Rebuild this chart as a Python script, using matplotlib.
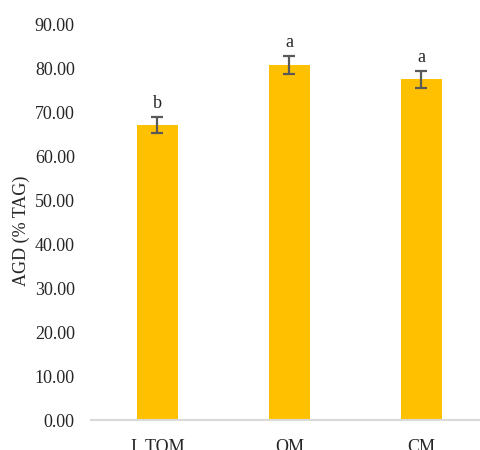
import matplotlib
matplotlib.use("Agg")
import matplotlib.pyplot as plt

categories = ["I_TOM", "OM", "CM"]
values = [67.3, 80.9, 77.6]
errors = [1.8, 2.0, 1.9]
letters = ["b", "a", "a"]
yticks = [0, 10, 20, 30, 40, 50, 60, 70, 80, 90]

plt.rcParams["font.family"] = ["Liberation Serif", "DejaVu Serif"]

fig = plt.figure(figsize=(4.8, 4.5), dpi=100)
ax = fig.add_axes([0.1906, 0.0656, 0.825, 0.879])

x = list(range(len(categories)))
ax.bar(x, values, width=0.31, color="#FFC000", zorder=2)
ax.errorbar(x, values, yerr=errors, fmt="none", ecolor="#595959",
            elinewidth=1.6, capsize=4, capthick=1.6, zorder=3)
for xi, v, e, lab in zip(x, values, errors, letters):
    ax.text(xi, v + e + 1.2, lab, ha="center", va="bottom", fontsize=13,
            color="#262626")

ax.set_xlim(-0.5, 2.5)
ax.set_ylim(0, 90)
ax.set_yticks(yticks)
ax.set_yticklabels([f"{t:.2f}" for t in yticks])
ax.set_xticks(x)
ax.set_xticklabels(categories)
ax.tick_params(axis="y", length=0, pad=12, labelsize=13, labelcolor="#262626")
ax.tick_params(axis="x", length=0, pad=13, labelsize=13, labelcolor="#262626")
for side in ["top", "right", "left"]:
    ax.spines[side].set_visible(False)
ax.spines["bottom"].set_color("#d9d9d9")
ax.spines["bottom"].set_linewidth(1.5)

ax.set_ylabel("AGD (% TAG)", fontsize=13, color="#262626")
ax.yaxis.set_label_coords(-0.155, 0.48)

fig.savefig("out.png", dpi=100)
